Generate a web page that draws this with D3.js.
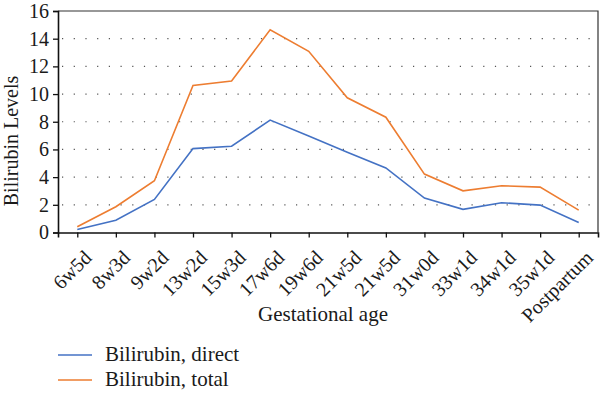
<!DOCTYPE html>
<html><head><meta charset="utf-8">
<script src="https://cdn.jsdelivr.net/npm/d3@7"></script>
<style>
body{margin:0;background:#fff;}
svg text{font-family:"Liberation Serif","Times New Roman",serif;fill:#1a1a1a;}
</style></head>
<body><svg id="c" width="600" height="394"></svg>
<script>
const categories = ["6w5d","8w3d","9w2d","13w2d","15w3d","17w6d","19w6d","21w5d","21w5d ","31w0d","33w1d","34w1d","35w1d","Postpartum"];
const direct = [0.22,0.89,2.39,6.06,6.23,8.12,6.97,5.8,4.66,2.49,1.67,2.15,1.98,0.72];
const total  = [0.41,1.86,3.74,10.62,10.94,14.64,13.09,9.73,8.33,4.22,3.01,3.38,3.28,1.62];
const yTicks = [0,2,4,6,8,10,12,14,16];
const seriesNames = ["Bilirubin, direct","Bilirubin, total"];
const colors = ["#4472C4","#ED7D31"];

const svg = d3.select("#c");
const m = {l:58, r:598, t:11, b:232.5};
const x = d3.scalePoint().domain(categories).range([m.l, m.r]).padding(0.5);
const y = d3.scaleLinear().domain([0,16]).range([m.b, m.t]);

// gridlines
svg.append("g").selectAll("line").data(yTicks.filter(d=>d>0&&d<16)).join("line")
  .attr("x1", m.l+4).attr("x2", m.r).attr("y1", d=>y(d)).attr("y2", d=>y(d))
  .attr("stroke","#555").attr("stroke-width",1.2).attr("stroke-dasharray","1.2,10.5");

// frame (top/right)
svg.append("path").attr("d",`M${m.l},${m.t}H${m.r}V${m.b}`).attr("fill","none").attr("stroke","#333").attr("stroke-width",1.2);

// y axis
const ya = svg.append("g").attr("transform",`translate(${m.l},0)`)
  .call(d3.axisLeft(y).tickValues(yTicks).tickSize(5).tickPadding(4));
ya.select(".domain").attr("stroke","#111").attr("stroke-width",1.6);
ya.selectAll(".tick line").attr("stroke","#111").attr("stroke-width",1.3);
ya.selectAll("text").attr("font-size",20).attr("font-family","Liberation Serif").attr("fill","#1a1a1a");

// x axis
const xa = svg.append("g").attr("transform",`translate(0,${m.b})`)
  .call(d3.axisBottom(x).tickSize(5).tickPadding(4));
xa.select(".domain").attr("stroke","#111").attr("stroke-width",1.6);
xa.selectAll(".tick line").attr("stroke","#111").attr("stroke-width",1.3);
xa.selectAll("text").attr("font-size",20).attr("font-family","Liberation Serif").attr("fill","#1a1a1a")
  .attr("text-anchor","end")
  .attr("transform","translate(10,21.5) rotate(-45)").attr("y",0).attr("x",0).attr("dy","0.35em");

// lines
const line = vals => d3.line().x((d,i)=>x(categories[i])).y(d=>y(d))(vals);
[direct,total].forEach((s,k)=>{
  svg.append("path").attr("d",line(s)).attr("fill","none").attr("stroke",colors[k]).attr("stroke-width",1.6);
});

// titles
svg.append("text").attr("x",323).attr("y",321).attr("text-anchor","middle").attr("font-size",21).text("Gestational age");
svg.append("text").attr("transform","translate(18,141) rotate(-90)").attr("text-anchor","middle").attr("font-size",20).text("Bilirubin Levels");

// legend
seriesNames.forEach((n,k)=>{
  const ly = 355 + k*25;
  svg.append("line").attr("x1",58).attr("x2",92).attr("y1",ly).attr("y2",ly).attr("stroke",colors[k]).attr("stroke-width",1.6);
  svg.append("text").attr("x",105).attr("y",ly+6).attr("font-size",21).text(n);
});
</script></body></html>
